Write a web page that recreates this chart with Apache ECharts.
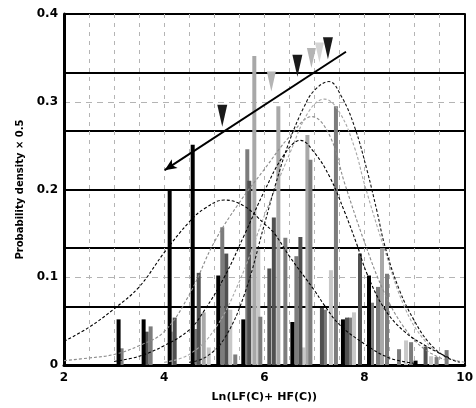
<!DOCTYPE html>
<html><head><meta charset="utf-8">
<script src="https://cdn.jsdelivr.net/npm/echarts@6/dist/echarts.min.js"></script>
<style>html,body{margin:0;padding:0;background:#fff}#c{width:476px;height:408px}</style>
</head><body><div id="c"></div>
<script>
// ---- data ----
const xTickLabels = ['2','4','6','8','10'];
const yTickLabels = ['0','0.1','0.2','0.3','0.4'];
const xName = 'Ln(LF(C)+ HF(C))';
const yName = 'Probability density × 0.5';

// histogram bars grouped by shade: [x, density]
const blackBars = [[3.09,0.052],[3.59,0.052],[4.11,0.200],[4.57,0.251],[5.08,0.102],[5.58,0.052],[6.56,0.049],[7.57,0.052],[8.09,0.102],[9.02,0.005]];
const darkBars  = [[3.65,0.038],[4.21,0.054],[4.69,0.105],[5.24,0.127],[5.70,0.210],[6.10,0.110],[6.19,0.168],[6.72,0.146],[7.15,0.065],[7.65,0.054],[7.91,0.127],[9.22,0.021]];
const midBars   = [[3.15,0.019],[3.73,0.044],[4.65,0.041],[5.16,0.157],[5.42,0.012],[5.66,0.246],[5.92,0.055],[6.42,0.145],[6.64,0.124],[6.92,0.234],[7.21,0.063],[7.43,0.295],[7.71,0.054],[8.15,0.071],[8.27,0.089],[8.45,0.104],[8.69,0.018],[8.93,0.026],[9.44,0.009],[9.64,0.017]];
const lightBars = [[4.16,0.038],[4.79,0.060],[5.80,0.352],[6.28,0.295],[6.86,0.262],[8.35,0.133]];
const paleBars  = [[4.89,0.020],[5.32,0.063],[5.88,0.132],[6.78,0.020],[7.33,0.108],[7.79,0.060],[8.83,0.028],[9.33,0.010]];

// fitted density curves
const curveA = [[2.0,0.027],[2.5,0.043],[3.0,0.064],[3.5,0.089],[4.0,0.128],[4.5,0.163],[4.8,0.178],[5.2,0.188],[5.6,0.181],[6.0,0.161],[6.2,0.150],[6.5,0.124],[7.0,0.085],[7.2,0.068],[7.5,0.046],[8.0,0.024],[8.5,0.008],[9.0,0.002]];
const curveB = [[3.0,0.004],[3.5,0.010],[4.0,0.022],[4.5,0.040],[4.8,0.062],[5.2,0.100],[5.6,0.148],[6.0,0.198],[6.4,0.240],[6.72,0.256],[7.0,0.242],[7.3,0.215],[7.6,0.175],[7.85,0.137],[8.05,0.104],[8.4,0.064],[8.8,0.038],[9.28,0.020],[9.7,0.008]];
const curveC = [[2.0,0.005],[2.5,0.008],[3.0,0.012],[3.5,0.022],[4.0,0.038],[4.5,0.080],[5.0,0.140],[5.5,0.185],[6.0,0.223],[6.5,0.260],[6.95,0.283],[7.3,0.262],[7.61,0.206],[8.0,0.140],[8.4,0.082],[8.8,0.042],[9.2,0.018],[9.6,0.006]];
const curveD = [[4.0,0.003],[4.5,0.012],[5.0,0.040],[5.5,0.095],[6.0,0.170],[6.5,0.240],[6.9,0.290],[7.2,0.303],[7.5,0.288],[7.8,0.248],[8.0,0.206],[8.41,0.130],[8.8,0.066],[9.2,0.028],[9.6,0.010],[10.0,0.003]];
const curveE = [[4.5,0.003],[4.83,0.009],[5.2,0.030],[5.6,0.080],[6.0,0.160],[6.22,0.205],[6.5,0.255],[6.8,0.295],[7.0,0.313],[7.29,0.323],[7.55,0.305],[7.81,0.270],[8.05,0.222],[8.25,0.175],[8.41,0.135],[8.7,0.085],[9.0,0.050],[9.28,0.026],[9.6,0.010],[9.9,0.003]];

// trend arrow and peak markers
const arrowStart = [4.01,0.222];
const arrowEnd   = [7.63,0.357];
const darkMarkers  = [[5.16,0.284],[6.66,0.341],[7.27,0.361]];
const lightMarkers = [[6.14,0.323],[6.94,0.350]];
const paleMarkers  = [[7.10,0.356]];

// ---- chart ----
const chart = echarts.init(document.getElementById('c'));
const FONT = 'DejaVu Sans';
function barSeries(data, color, w){
  return {type:'custom', data:data, z:2, silent:true, clip:true,
    encode:{x:0,y:1},
    renderItem:function(params, api){
      const x=api.value(0), y=api.value(1);
      const top=api.coord([x,y]); const base=api.coord([x,0]);
      return {type:'rect', shape:{x:top[0]-w/2, y:top[1], width:w, height:base[1]-top[1]}, style:{fill:color}};
    }};
}
function curveSeries(data, color){
  return {type:'line', data:data, smooth:0.4, showSymbol:false, z:3, silent:true,
    lineStyle:{color:color, width:1.1, type:[3,2]}};
}
function markerSeries(data, color, size){
  return {type:'scatter', data:data, symbol:'triangle', symbolRotate:180, symbolSize:size, z:5, silent:true,
    itemStyle:{color:color, opacity:1}};
}
const option = {
  animation:false,
  backgroundColor:'#fff',
  grid:{left:64, right:10, top:14, bottom:37},
  xAxis:{type:'value', min:2, max:10, interval:0.5,
    axisLine:{lineStyle:{color:'#000', width:3}},
    axisTick:{show:false},
    splitLine:{show:true, lineStyle:{color:'#b4b4b4', type:[4,5], width:1}},
    axisLabel:{color:'#000', fontFamily:FONT, fontWeight:'bold', fontSize:12, margin:7,
      formatter:function(v){ const s=String(Math.round(v*100)/100); return xTickLabels.indexOf(s)>=0 ? s : ''; }},
    name:xName, nameLocation:'middle', nameGap:27,
    nameTextStyle:{color:'#000', fontFamily:FONT, fontWeight:'bold', fontSize:11}
  },
  yAxis:[
    {type:'value', min:0, max:0.4, interval:0.1,
      axisLine:{show:true, lineStyle:{color:'#000', width:3}},
      axisTick:{show:false},
      splitLine:{show:true, lineStyle:{color:'#b4b4b4', type:[6,5], width:1}},
      axisLabel:{color:'#000', fontFamily:FONT, fontWeight:'bold', fontSize:12, margin:6,
        formatter:function(v){ const s=String(Math.round(v*10)/10); return yTickLabels.indexOf(s)>=0 ? s : ''; }},
      name:yName, nameLocation:'middle', nameGap:38, nameRotate:90,
      nameTextStyle:{color:'#000', fontFamily:FONT, fontWeight:'bold', fontSize:10}
    },
    {type:'value', min:0, max:0.4, interval:0.4/6, position:'right',
      axisLine:{show:true, lineStyle:{color:'#000', width:2}},
      axisTick:{show:false}, axisLabel:{show:false},
      splitLine:{show:true, lineStyle:{color:'#000', width:2}}
    }
  ],
  series:[
    barSeries(paleBars, '#c8c8c8', 4),
    barSeries(lightBars, '#a8a8a8', 4),
    barSeries(midBars, '#7c7c7c', 4),
    barSeries(darkBars, '#505050', 4),
    barSeries(blackBars, '#000', 4),
    curveSeries(curveC, '#8a8a8a'),
    curveSeries(curveD, '#a8a8a8'),
    curveSeries(curveA, '#000'),
    curveSeries(curveB, '#000'),
    curveSeries(curveE, '#111'),
    {type:'line', data:[arrowStart, arrowEnd], showSymbol:false, z:4, silent:true,
      lineStyle:{opacity:0},
      markLine:{silent:true, symbol:['arrow','none'], symbolSize:[8,12], label:{show:false},
        lineStyle:{color:'#000', width:2, type:'solid'},
        data:[[{coord:arrowStart},{coord:arrowEnd}]]}},
    markerSeries(paleMarkers, '#d4d4d4', [9,20]),
    markerSeries(lightMarkers, '#b4b4b4', [9,20]),
    markerSeries(darkMarkers, '#1a1a1a', [10,22])
  ]
};
chart.setOption(option);
</script>
</body></html>
